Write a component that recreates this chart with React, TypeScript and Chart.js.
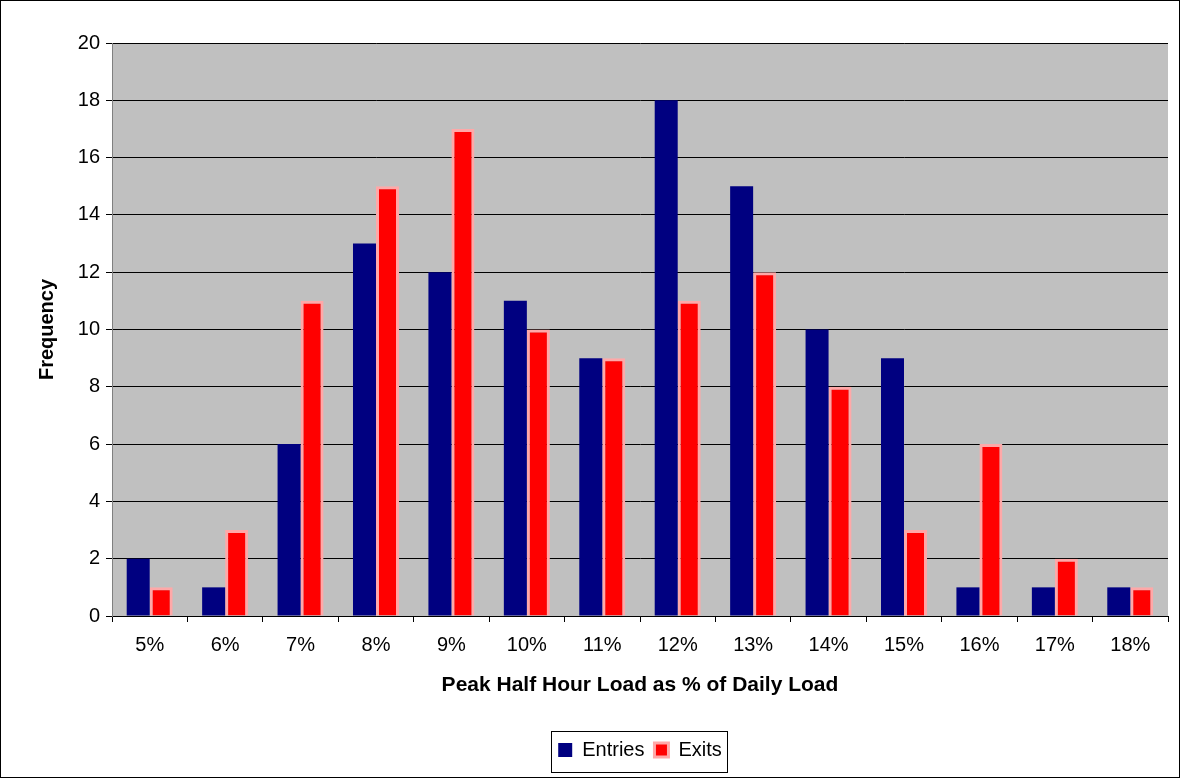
import React, { useEffect, useRef } from "react";
import { Chart, registerables } from "chart.js";

Chart.register(...registerables);

const categories = ["5%", "6%", "7%", "8%", "9%", "10%", "11%", "12%", "13%", "14%", "15%", "16%", "17%", "18%"];
const entries = [2, 1, 6, 13, 12, 11, 9, 18, 15, 10, 9, 1, 1, 1];
const exits = [1, 3, 11, 15, 17, 10, 9, 11, 12, 8, 3, 6, 2, 1];

const FONT = "'Liberation Sans', Arial, sans-serif";

// Grey plot background, legend centred under the plot, and a frame round the legend.
const decorations = {
  id: "decorations",
  afterLayout(chart: any) {
    const lg = chart.legend;
    const area = chart.chartArea;
    if (!lg || !area) return;
    lg.left = area.left;
    lg.right = area.right;
    lg.width = area.right - area.left;
  },
  beforeDraw(chart: any) {
    const { ctx, chartArea } = chart;
    ctx.save();
    ctx.fillStyle = "#C0C0C0";
    ctx.fillRect(chartArea.left, chartArea.top, chartArea.right - chartArea.left, chartArea.bottom - chartArea.top);
    ctx.restore();
  },
  afterDraw(chart: any) {
    const lg = chart.legend;
    if (!lg || !lg.legendHitBoxes || !lg.legendHitBoxes.length) return;
    const boxes = lg.legendHitBoxes;
    let minX = Infinity, maxX = -Infinity, minY = Infinity, maxY = -Infinity;
    for (const b of boxes) {
      minX = Math.min(minX, b.left);
      maxX = Math.max(maxX, b.left + b.width);
      minY = Math.min(minY, b.top);
      maxY = Math.max(maxY, b.top + b.height);
    }
    const cy = (minY + maxY) / 2;
    const { ctx } = chart;
    ctx.save();
    ctx.strokeStyle = "#000";
    ctx.lineWidth = 1;
    const x0 = Math.round(minX - 7) + 0.5;
    const x1 = Math.round(maxX + 5) + 0.5;
    const y0 = Math.round(cy - 19) + 0.5;
    const y1 = Math.round(cy + 22) + 0.5;
    ctx.strokeRect(x0, y0, x1 - x0, y1 - y0);
    ctx.restore();
  },
};

export default function App() {
  const ref = useRef<HTMLCanvasElement>(null);

  useEffect(() => {
    document.body.style.margin = "0";
    const chart = new Chart(ref.current!, {
      type: "bar",
      data: {
        labels: categories,
        datasets: [
          {
            label: "Entries",
            data: entries,
            backgroundColor: "#000080",
            borderWidth: 0,
          },
          {
            label: "Exits",
            data: exits,
            backgroundColor: "#FF0000",
            borderColor: "#FFA8A8",
            borderWidth: 3,
          },
        ],
      },
      options: {
        animation: false,
        responsive: false,
        devicePixelRatio: 1,
        layout: { padding: { top: 43, right: 12, left: 35, bottom: 8 } },
        datasets: {
          bar: { categoryPercentage: 0.61, barPercentage: 1 },
        },
        scales: {
          x: {
            grid: {
              offset: true,
              drawOnChartArea: false,
              drawTicks: true,
              tickLength: 6,
              color: "#000",
            },
            border: { color: "#000", width: 1 },
            ticks: { color: "#000", font: { family: FONT, size: 20 }, padding: 11, maxRotation: 0 },
            title: {
              display: true,
              text: "Peak Half Hour Load as % of Daily Load",
              color: "#000",
              font: { family: FONT, size: 21, weight: "bold" },
              padding: { top: 0, bottom: 32 },
            },
            afterFit(scale: any) {
              scale.height = 114;
            },
          },
          y: {
            min: 0,
            max: 20,
            ticks: { stepSize: 2, color: "#000", font: { family: FONT, size: 20 }, padding: 6 },
            grid: { color: "#000", tickLength: 6, drawTicks: true },
            border: { color: "#808080", width: 1 },
            title: {
              display: true,
              text: "Frequency",
              color: "#000",
              font: { family: FONT, size: 20, weight: "bold" },
              padding: { top: 0, bottom: 0 },
            },
            afterFit(scale: any) {
              scale.width = 77;
            },
          },
        },
        plugins: {
          legend: {
            position: "bottom",
            labels: {
              color: "#000",
              font: { family: FONT, size: 20 },
              boxWidth: 14,
              boxHeight: 14,
              padding: 10,
            },
          },
          tooltip: { enabled: false },
        },
      },
      plugins: [decorations],
    });
    return () => chart.destroy();
  }, []);

  return (
    <div style={{ width: 1180, height: 778, position: "relative", background: "#fff" }}>
      <canvas ref={ref} width={1180} height={778} style={{ display: "block", width: 1180, height: 778 }} />
      <div
        style={{
          position: "absolute",
          left: 0,
          top: 0,
          width: 1178,
          height: 776,
          border: "1px solid #000",
          pointerEvents: "none",
        }}
      />
    </div>
  );
}
